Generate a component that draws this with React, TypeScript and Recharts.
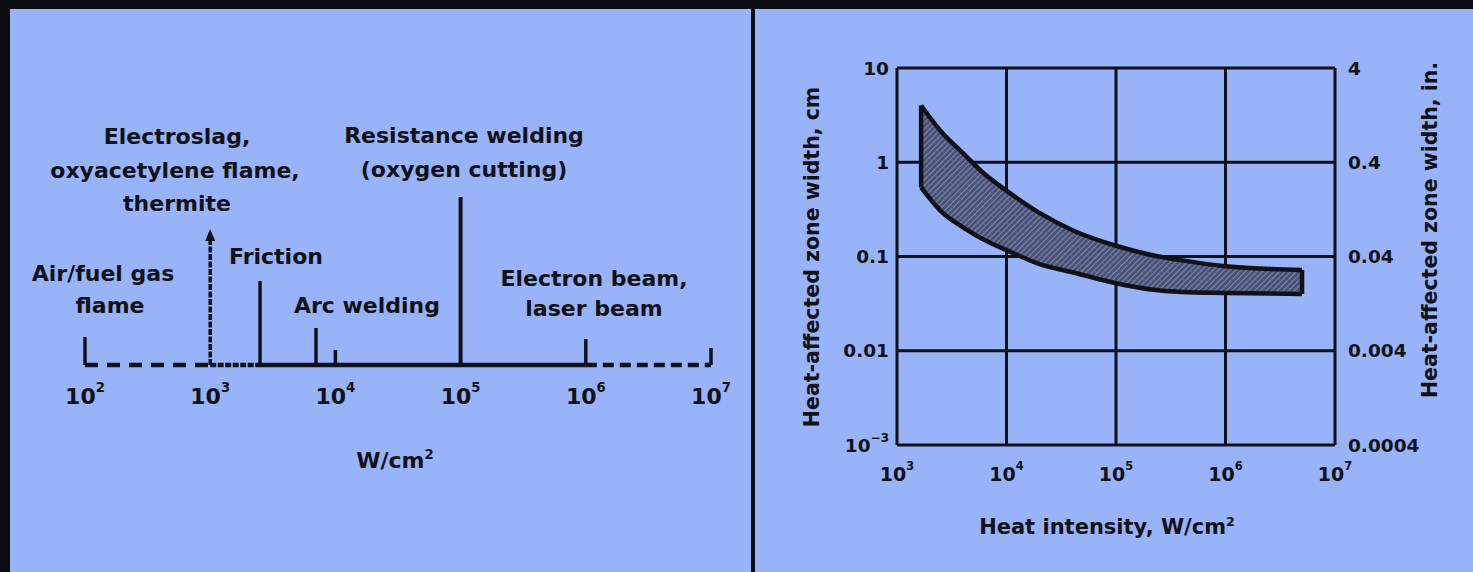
import React from "react";
import {
  ComposedChart,
  XAxis,
  YAxis,
  CartesianGrid,
  Area,
  Scatter,
  ReferenceLine,
  ReferenceDot,
} from "recharts";

const BG = "#98b3f7";
const INK = "#111118";
const FONT = '"DejaVu Sans", Verdana, sans-serif';

// left panel: heat sources on an intensity scale, W/cm²
const scaleTicks = [1e2, 1e3, 1e4, 1e5, 1e6, 1e7];
const markerIntensity = [1e2, 1e3, 2.5e3, 7e3, 1e4, 1e5, 1e6, 1e7];
const markerHeight = [28, 132, 84, 37, 15, 168, 26, 17];
const baseFrom = [1e2, 1e3, 2.5e3, 1e6];
const baseTo = [1e3, 2.5e3, 1e6, 1e7];

// right panel: heat-affected zone width vs heat intensity
const intensityTicks = [1e3, 1e4, 1e5, 1e6, 1e7];
const widthCmTicks = [0.001, 0.01, 0.1, 1, 10];
const widthInTicks = [0.0004, 0.004, 0.04, 0.4, 4];
const bandIntensity = [1660, 2500, 4000, 6300, 1e4, 2e4, 4e4, 1e5, 2e5, 4e5, 1e6, 5e6];
const bandUpper = [4.0, 2.15, 1.25, 0.75, 0.5, 0.29, 0.19, 0.13, 0.105, 0.091, 0.079, 0.072];
const bandLower = [0.54, 0.305, 0.204, 0.15, 0.117, 0.083, 0.068, 0.052, 0.045, 0.042, 0.041, 0.04];

const markerData = markerIntensity.map((x, i) => ({ x, h: markerHeight[i] }));
const bandData = bandIntensity.map((x, i) => ({ x, band: [bandLower[i], bandUpper[i]] }));

const baseDash = ["13 9", "6 1.5", undefined, "11 6"];

function PowTick(props: any) {
  const { x, y, payload, size, offset } = props;
  const exp = String(Math.round(Math.log10(payload.value))).replace("-", "\u2212");
  return (
    <text
      x={x}
      y={y + offset}
      textAnchor="middle"
      dominantBaseline="central"
      fill={INK}
      fontFamily={FONT}
      fontWeight="bold"
      fontSize={size}
    >
      10
      <tspan fontSize={size * 0.6} dy={-size * 0.4}>
        {exp}
      </tspan>
    </text>
  );
}

function CmTick(props: any) {
  const { x, y, payload } = props;
  const v = payload.value;
  return (
    <text
      x={x}
      y={y}
      textAnchor="end"
      dominantBaseline="central"
      fill={INK}
      fontFamily={FONT}
      fontWeight="bold"
      fontSize={18.5}
    >
      {v < 0.005 ? (
        <>
          10
          <tspan fontSize={12} dy={-7}>
            {"\u22123"}
          </tspan>
        </>
      ) : (
        String(v)
      )}
    </text>
  );
}

function InTick(props: any) {
  const { x, y, payload } = props;
  return (
    <text
      x={x}
      y={y}
      textAnchor="start"
      dominantBaseline="central"
      fill={INK}
      fontFamily={FONT}
      fontWeight="bold"
      fontSize={18.5}
    >
      {String(payload.value)}
    </text>
  );
}

function Arrow(props: any) {
  const { cx, cy } = props;
  return <path d={`M${cx},${cy - 4} L${cx - 5},${cy + 8} L${cx + 5},${cy + 8} Z`} fill={INK} />;
}

function Note({ x, y, size = 22, children }: any) {
  return (
    <div
      style={{
        position: "absolute",
        left: x,
        top: y,
        transform: "translate(-50%, -50%)",
        whiteSpace: "nowrap",
        fontSize: size,
        lineHeight: 1,
        fontWeight: "bold",
        color: INK,
      }}
    >
      {children}
    </div>
  );
}

function VNote({ x, y, size = 20.5, children }: any) {
  return (
    <div
      style={{
        position: "absolute",
        left: x,
        top: y,
        transform: "translate(-50%, -50%) rotate(-90deg)",
        whiteSpace: "nowrap",
        fontSize: size,
        lineHeight: 1,
        fontWeight: "bold",
        color: INK,
      }}
    >
      {children}
    </div>
  );
}

function ScaleChart() {
  return (
    <ComposedChart width={741} height={563} data={markerData} margin={{ top: 156, right: 40, bottom: 167, left: 75 }}>
      <XAxis
        dataKey="x"
        type="number"
        scale="log"
        domain={[1e2, 1e7]}
        ticks={scaleTicks}
        allowDataOverflow
        axisLine={false}
        tickLine={false}
        height={40}
        tick={(p: any) => <PowTick {...p} size={22} offset={23} />}
      />
      <YAxis hide type="number" domain={[0, 200]} allowDataOverflow />
      <Scatter dataKey="h" fill="none" stroke="none" isAnimationActive={false} />
      {baseFrom.map((from, i) => (
        <ReferenceLine
          key={`b${i}`}
          segment={[
            { x: from, y: 0 },
            { x: baseTo[i], y: 0 },
          ]}
          stroke={INK}
          strokeWidth={4.5}
          strokeDasharray={baseDash[i]}
        />
      ))}
      {markerIntensity.map((x, i) => (
        <ReferenceLine
          key={`m${i}`}
          segment={[
            { x, y: 0 },
            { x, y: markerHeight[i] },
          ]}
          stroke={INK}
          strokeWidth={i === 5 ? 4 : 3.5}
          strokeDasharray={i === 1 ? "6 1.5" : undefined}
        />
      ))}
      <ReferenceDot x={markerIntensity[1]} y={markerHeight[1]} r={0} shape={Arrow} />
    </ComposedChart>
  );
}

function BandChart() {
  return (
    <ComposedChart width={718} height={563} data={bandData} margin={{ top: 59, right: 48, bottom: 87, left: 82 }}>
      <defs>
        <pattern id="hazHatch" width="4" height="4" patternUnits="userSpaceOnUse" patternTransform="rotate(45)">
          <rect width="4" height="4" fill="#4a5276" />
          <line x1="0" y1="0" x2="0" y2="4" stroke="#9aa6d2" strokeWidth="1.3" />
        </pattern>
      </defs>
      <CartesianGrid stroke={INK} strokeWidth={3} />
      <XAxis
        dataKey="x"
        type="number"
        scale="log"
        domain={[1e3, 1e7]}
        ticks={intensityTicks}
        allowDataOverflow
        axisLine={false}
        tickLine={false}
        height={40}
        tick={(p: any) => <PowTick {...p} size={19} offset={21} />}
      />
      <YAxis
        type="number"
        scale="log"
        domain={[0.001, 10]}
        ticks={widthCmTicks}
        allowDataOverflow
        axisLine={false}
        tickLine={false}
        width={60}
        tick={CmTick}
      />
      <YAxis
        yAxisId="right"
        orientation="right"
        type="number"
        scale="log"
        domain={[0.0004, 4]}
        ticks={widthInTicks}
        allowDataOverflow
        axisLine={false}
        tickLine={false}
        tickMargin={7}
        width={90}
        tick={InTick}
      />
      <Area
        dataKey="band"
        type="monotone"
        stroke={INK}
        strokeWidth={4.5}
        fill="url(#hazHatch)"
        fillOpacity={1}
        dot={false}
        activeDot={false}
        isAnimationActive={false}
      />
      <ReferenceLine
        segment={[
          { x: bandIntensity[0], y: bandLower[0] },
          { x: bandIntensity[0], y: bandUpper[0] },
        ]}
        stroke={INK}
        strokeWidth={4.5}
      />
      <ReferenceLine
        segment={[
          { x: bandIntensity[bandIntensity.length - 1], y: bandLower[bandLower.length - 1] },
          { x: bandIntensity[bandIntensity.length - 1], y: bandUpper[bandUpper.length - 1] },
        ]}
        stroke={INK}
        strokeWidth={4.5}
      />
    </ComposedChart>
  );
}

export default function App() {
  return (
    <div
      style={{
        position: "absolute",
        left: 0,
        top: 0,
        width: 1473,
        height: 572,
        background: "#0b0b10",
        overflow: "hidden",
        fontFamily: FONT,
      }}
    >
      <div style={{ position: "absolute", left: 10, top: 9, width: 741, height: 563, background: BG }}>
        <ScaleChart />
      </div>
      <div style={{ position: "absolute", left: 755, top: 9, width: 718, height: 563, background: BG }}>
        <BandChart />
      </div>

      <Note x={177} y={137}>Electroslag,</Note>
      <Note x={175} y={171}>oxyacetylene flame,</Note>
      <Note x={177} y={204}>thermite</Note>
      <Note x={464} y={136}>Resistance welding</Note>
      <Note x={464} y={170}>(oxygen cutting)</Note>
      <Note x={103} y={274}>Air/fuel gas</Note>
      <Note x={110} y={306}>flame</Note>
      <Note x={276} y={257}>Friction</Note>
      <Note x={367} y={306}>Arc welding</Note>
      <Note x={594} y={279}>Electron beam,</Note>
      <Note x={594} y={309}>laser beam</Note>
      <Note x={395} y={460}>
        W/cm<sup style={{ fontSize: "0.6em" }}>2</sup>
      </Note>

      <Note x={1107} y={527} size={21}>
        Heat intensity, W/cm<sup style={{ fontSize: "0.6em" }}>2</sup>
      </Note>
      <VNote x={812} y={257}>Heat-affected zone width, cm</VNote>
      <VNote x={1430} y={230}>Heat-affected zone width, in.</VNote>
    </div>
  );
}
